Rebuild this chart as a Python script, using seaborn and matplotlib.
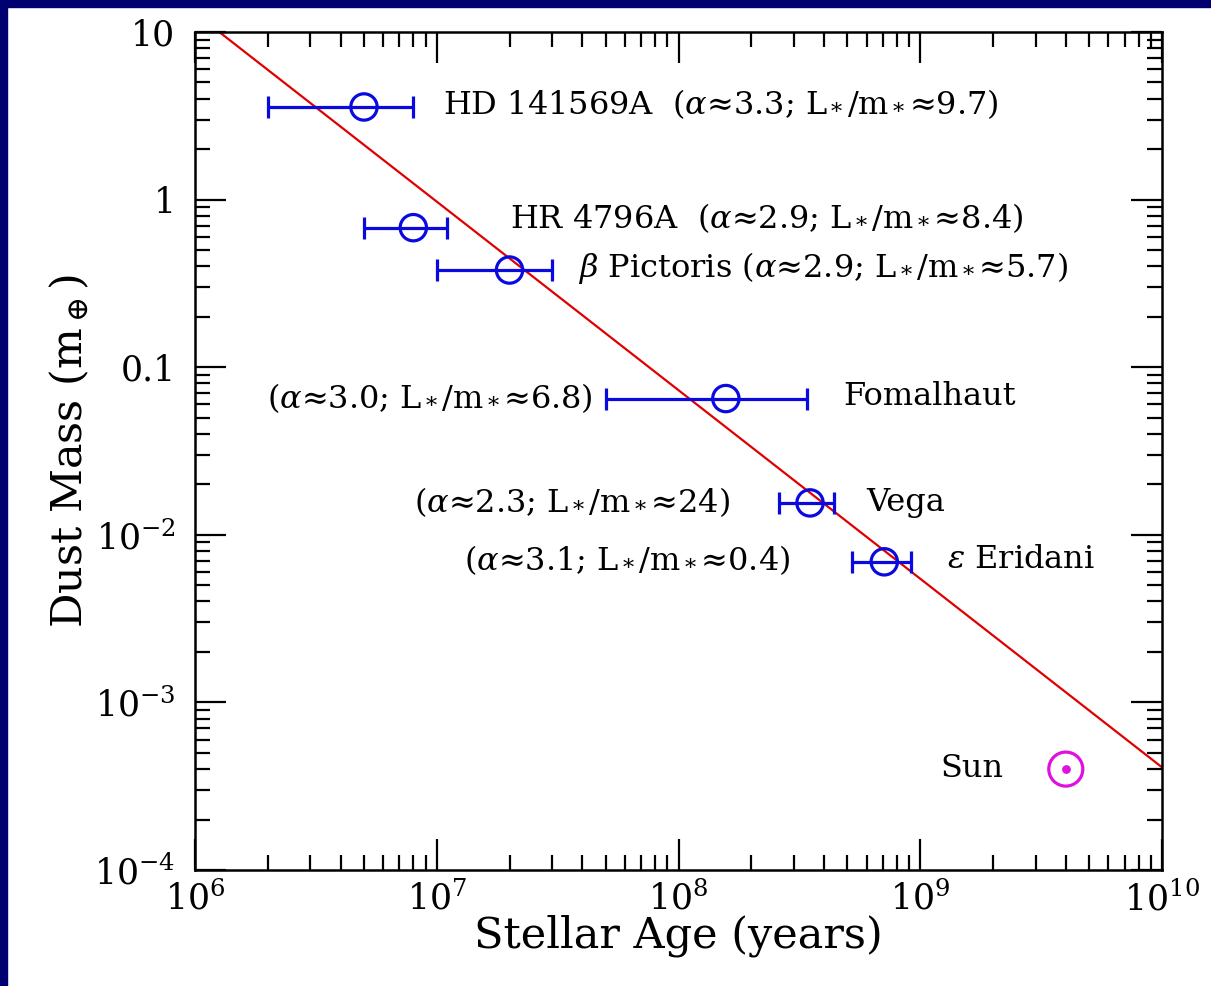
import numpy as np
import pandas as pd
import matplotlib
matplotlib.use("Agg")
import matplotlib.pyplot as plt
import seaborn as sns
from matplotlib.ticker import LogLocator, LogFormatterMathtext, NullFormatter
from matplotlib.patches import Rectangle

# ---- data ----
stars = ["HD 141569A", "HR 4796A", "β Pictoris", "Fomalhaut", "Vega", "ε Eridani"]
age = [5.0e6, 8.0e6, 2.0e7, 1.57e8, 3.5e8, 7.1e8]
age_lo = [2.0e6, 5.0e6, 1.0e7, 5.0e7, 2.6e8, 5.2e8]
age_hi = [8.0e6, 1.1e7, 3.0e7, 3.4e8, 4.4e8, 9.2e8]
dust_mass = [3.57, 0.68, 0.38, 0.065, 0.0155, 0.0069]
notes = ["(α≈3.3; L*/m*≈9.7)", "(α≈2.9; L*/m*≈8.4)", "(α≈2.9; L*/m*≈5.7)",
         "(α≈3.0; L*/m*≈6.8)", "(α≈2.3; L*/m*≈24)", "(α≈3.1; L*/m*≈0.4)"]
sun_age = [4.0e9]
sun_mass = [4.0e-4]
fit_age = [1.26e6, 1.0e10]
fit_mass = [10.0, 4.1e-4]

sns.set_theme(style="ticks")
plt.rcParams["font.family"] = ["DejaVu Serif"]
plt.rcParams["mathtext.fontset"] = "dejavuserif"
plt.rcParams["text.color"] = "black"
plt.rcParams["axes.labelcolor"] = "black"
plt.rcParams["xtick.color"] = "black"
plt.rcParams["ytick.color"] = "black"

fig = plt.figure(figsize=(12.11, 9.86), dpi=100)
fig.patch.set_facecolor("white")
ax = fig.add_axes([195/1211, 1-870/986, (1162-195)/1211, (870-32)/986])

df = pd.DataFrame({"age": age, "mass": dust_mass})
fit = pd.DataFrame({"age": fit_age, "mass": fit_mass})

sns.lineplot(data=fit, x="age", y="mass", ax=ax, color="#e00000", lw=1.6)

blue = "#0a0ae0"
xerr = [np.array(age) - np.array(age_lo), np.array(age_hi) - np.array(age)]
ax.errorbar(age, dust_mass, xerr=xerr, fmt="none", ecolor=blue, elinewidth=2.3,
            capsize=8, capthick=2.3)
sns.scatterplot(data=df, x="age", y="mass", ax=ax, marker="o", s=360,
                facecolor="none", edgecolor=blue, linewidth=2.3, zorder=5)

mag = "#e010e0"
ax.scatter(sun_age, sun_mass, s=600, facecolor="none", edgecolor=mag, linewidth=2.3, zorder=5)
ax.scatter(sun_age, sun_mass, s=28, color=mag, zorder=6)

ax.set_xscale("log")
ax.set_yscale("log")
ax.set_xlim(1e6, 1e10)
ax.set_ylim(1e-4, 10)

def fmt_note(n):
    return n.replace("α", r"$\alpha$").replace("L*", r"L$_*$").replace("m*", r"m$_*$")

fs = 23
def px2x(px):
    return 10 ** (6 + (px - 195) / 241.75)
def py2y(py):
    return 10 ** (1 - (py - 32) / 167.6)

ax.text(px2x(443), py2y(104), stars[0] + "  " + fmt_note(notes[0]), fontsize=fs, va="center", ha="left")
ax.text(px2x(510), py2y(218), stars[1] + "  " + fmt_note(notes[1]), fontsize=fs, va="center", ha="left")
ax.text(px2x(578), py2y(268), r"$\beta$ Pictoris " + fmt_note(notes[2]), fontsize=fs, va="center", ha="left")
ax.text(px2x(592), py2y(398), fmt_note(notes[3]), fontsize=fs, va="center", ha="right")
ax.text(px2x(843), py2y(397), stars[3], fontsize=fs, va="center", ha="left")
ax.text(px2x(730), py2y(502), fmt_note(notes[4]), fontsize=fs, va="center", ha="right")
ax.text(px2x(866), py2y(502), stars[4], fontsize=fs, va="center", ha="left")
ax.text(px2x(790), py2y(560), fmt_note(notes[5]), fontsize=fs, va="center", ha="right")
ax.text(px2x(947), py2y(560), r"$\epsilon$ Eridani", fontsize=fs, va="center", ha="left")
ax.text(px2x(940), py2y(768), "Sun", fontsize=fs, va="center", ha="left")

ax.xaxis.set_major_locator(LogLocator(base=10, numticks=10))
ax.yaxis.set_major_locator(LogLocator(base=10, numticks=10))
ax.xaxis.set_minor_locator(LogLocator(base=10, subs=np.arange(2, 10), numticks=20))
ax.yaxis.set_minor_locator(LogLocator(base=10, subs=np.arange(2, 10), numticks=20))
ax.xaxis.set_minor_formatter(NullFormatter())
ax.yaxis.set_minor_formatter(NullFormatter())

def yfmt(v, pos):
    e = int(round(np.log10(v)))
    if e == 1:
        return "10"
    if e == 0:
        return "1"
    if e == -1:
        return "0.1"
    return r"$10^{%d}$" % e
ax.yaxis.set_major_formatter(plt.FuncFormatter(yfmt))
ax.xaxis.set_major_formatter(LogFormatterMathtext())

ax.tick_params(which="major", direction="in", length=22, width=1.6, top=True, right=True,
               labelsize=25, pad=8, color="black", labelcolor="black")
ax.tick_params(which="minor", direction="in", length=11, width=1.6, top=True, right=True, color="black")
ax.tick_params(axis="y", which="major", pad=14)
for s in ax.spines.values():
    s.set_linewidth(1.8)
    s.set_color("black")

ax.set_xlabel("Stellar Age (years)", fontsize=31, labelpad=-2)
ax.set_ylabel(r"Dust Mass (m$_\oplus$)", fontsize=31, labelpad=2)

fig.patches.append(Rectangle((0, 0), 7/1211, 1, transform=fig.transFigure, color="#000070", zorder=-1))
fig.patches.append(Rectangle((0, 1-7/986), 1, 7/986, transform=fig.transFigure, color="#000070", zorder=-1))

fig.savefig("out.png", dpi=100, facecolor="white")
